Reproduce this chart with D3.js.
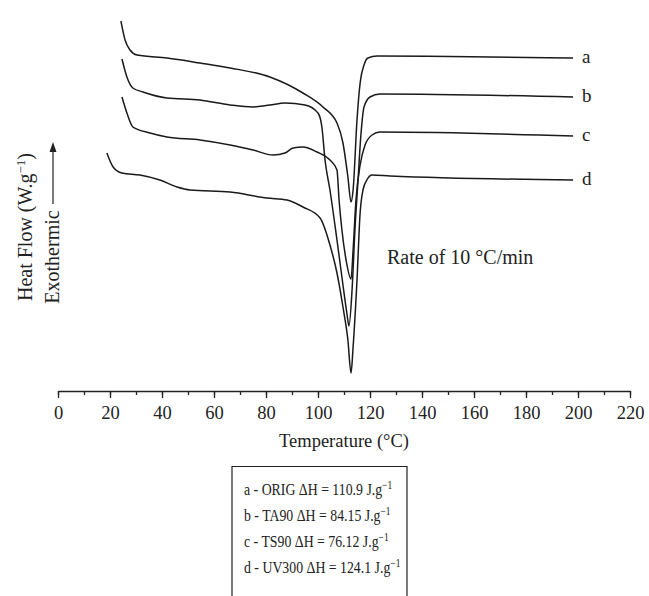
<!DOCTYPE html>
<html>
<head>
<meta charset="utf-8">
<script src="https://cdn.jsdelivr.net/npm/d3@7"></script>
<style>
  body { margin: 0; background: #fff; }
  text { font-family: "Liberation Serif", "Times New Roman", serif; fill: #222; }
</style>
</head>
<body>
<div id="chart"></div>
<script>
// temperature (°C), heat flow (arbitrary units, curves offset for display)
var curveA = [[24.2,37.0],[25.8,35.1],[27.7,34.1],[30.4,33.6],[41.9,33.3],[54.6,32.8],[66.2,32.3],
  [81.5,31.4],[94.2,29.8],[101.9,28.4],[107.3,26.8],[109.6,24.8],[111.5,21.4],[112.7,18.9],
  [113.5,20.1],[115.0,27.1],[116.2,30.8],[117.7,32.6],[119.2,33.3],[122.7,33.5],[150.8,33.45],[198.1,33.3]];
var curveB = [[24.6,33.2],[26.5,31.4],[28.8,30.3],[32.7,29.9],[41.9,29.3],[54.6,29.1],[66.2,28.6],
  [75.0,28.4],[81.5,28.6],[87.3,28.8],[95.0,28.6],[100.0,27.8],[101.5,26.4],[102.7,23.1],
  [104.6,20.1],[107.3,15.1],[109.6,10.6],[111.2,7.6],[111.9,6.5],[113.1,10.1],[114.2,16.1],
  [115.4,21.1],[116.5,25.6],[117.7,28.4],[120.0,29.4],[123.8,29.7],[198.1,29.4]];
var curveC = [[24.6,29.4],[26.5,27.8],[28.8,26.4],[35.4,25.8],[41.9,25.4],[54.6,25.1],[66.2,24.6],
  [75.0,24.1],[82.7,23.6],[87.3,23.8],[90.4,24.3],[94.2,24.4],[99.6,23.9],[104.6,23.1],
  [107.3,22.1],[108.1,19.1],[109.2,16.1],[110.8,13.1],[112.7,11.2],[113.5,14.1],[114.6,19.1],
  [116.2,22.6],[118.1,24.6],[120.8,25.6],[123.8,25.9],[198.1,25.5]];
var curveD = [[18.8,23.8],[21.2,22.4],[24.6,21.8],[31.5,21.6],[39.2,21.1],[45.8,20.4],[50.8,20.1],
  [66.2,19.9],[80.4,19.3],[88.1,19.1],[94.2,18.4],[100.8,17.3],[104.6,14.6],[107.3,11.8],
  [109.6,8.4],[111.5,5.1],[112.7,1.8],[113.5,4.4],[115.0,11.1],[116.2,17.8],[117.3,20.1],
  [118.8,21.1],[120.8,21.6],[127.7,21.5],[198.1,21.1]];

var curveNames = ['a', 'b', 'c', 'd'];
var curves = [curveA, curveB, curveC, curveD];
var majorTicks = d3.range(0, 221, 20);
var minorTicks = d3.range(0, 221, 10);
var legendSamples = ['ORIG', 'TA90', 'TS90', 'UV300'];
var legendEnthalpy = ['110.9', '84.15', '76.12', '124.1'];

var width = 649, height = 596;
var svg = d3.select('#chart').append('svg')
  .attr('width', width).attr('height', height);

var x = d3.scaleLinear().domain([0, 220]).range([58, 630]);
var y = d3.scaleLinear().domain([0, 39.1]).range([391, 0]);

// minor ticks
svg.append('g')
  .attr('transform', 'translate(0,391)')
  .call(d3.axisBottom(x).tickValues(minorTicks).tickSize(4).tickSizeOuter(0).tickFormat(''))
  .call(function(g) { g.select('.domain').remove(); });

// major ticks with labels
var xAxis = svg.append('g')
  .attr('transform', 'translate(0,391)')
  .call(d3.axisBottom(x).tickValues(majorTicks).tickSize(7).tickSizeOuter(0).tickPadding(8));
xAxis.selectAll('text').style('font-size', '18.5px').style('font-family', '"Liberation Serif", serif');
xAxis.selectAll('line, path').attr('stroke', '#222').attr('stroke-width', 1.3);
svg.selectAll('.tick line').attr('stroke', '#222').attr('stroke-width', 1.3);

svg.append('text')
  .attr('x', x(110)).attr('y', 447)
  .attr('text-anchor', 'middle')
  .style('font-size', '18.5px')
  .text('Temperature (°C)');

// curves
var line = d3.line()
  .x(function(d) { return x(d[0]); })
  .y(function(d) { return y(d[1]); })
  .curve(d3.curveMonotoneX);

svg.selectAll('path.curve')
  .data(curves)
  .enter().append('path')
  .attr('class', 'curve')
  .attr('d', line)
  .attr('fill', 'none')
  .attr('stroke', '#1a1a1a')
  .attr('stroke-width', 1.5);

svg.selectAll('text.clabel')
  .data(curves)
  .enter().append('text')
  .attr('class', 'clabel')
  .attr('x', function(d) { return x(d[d.length - 1][0]) + 9; })
  .attr('y', function(d) { return y(d[d.length - 1][1]) + 5; })
  .style('font-size', '19px')
  .text(function(d, i) { return curveNames[i]; });

svg.append('text')
  .attr('x', 387).attr('y', 264)
  .style('font-size', '20px')
  .text('Rate of 10 °C/min');

// y label
var yl = svg.append('text')
  .attr('transform', 'translate(32,227) rotate(-90)')
  .attr('text-anchor', 'middle')
  .style('font-size', '20px');
yl.append('tspan').text('Heat Flow (W.g');
yl.append('tspan').attr('dy', -7).style('font-size', '13px').text('−1');
yl.append('tspan').attr('dy', 7).text(')');

svg.append('text')
  .attr('transform', 'translate(59,257) rotate(-90)')
  .attr('text-anchor', 'middle')
  .style('font-size', '20px')
  .text('Exothermic');

svg.append('line')
  .attr('x1', 53).attr('y1', 204).attr('x2', 53).attr('y2', 150)
  .attr('stroke', '#222').attr('stroke-width', 1.2);
svg.append('path')
  .attr('d', 'M53,142 L49.5,152 L56.5,152 Z')
  .attr('fill', '#222');

// legend box
svg.append('path')
  .attr('d', 'M232,606 L232,466.5 L407,466.5 L407,606')
  .attr('fill', 'none').attr('stroke', '#222').attr('stroke-width', 1.2);

var leg = svg.selectAll('text.leg')
  .data(curveNames)
  .enter().append('text')
  .attr('class', 'leg')
  .attr('transform', function(d, i) { return 'translate(244,' + (495 + i * 26) + ') scale(0.79,1)'; })
  .style('font-size', '17.5px');
leg.append('tspan').text(function(d, i) {
  return d + ' - ' + legendSamples[i] + ' ΔH = ' + legendEnthalpy[i] + ' J.g';
});
leg.append('tspan').attr('dy', -6).style('font-size', '12px').text('−1');
</script>
</body>
</html>
